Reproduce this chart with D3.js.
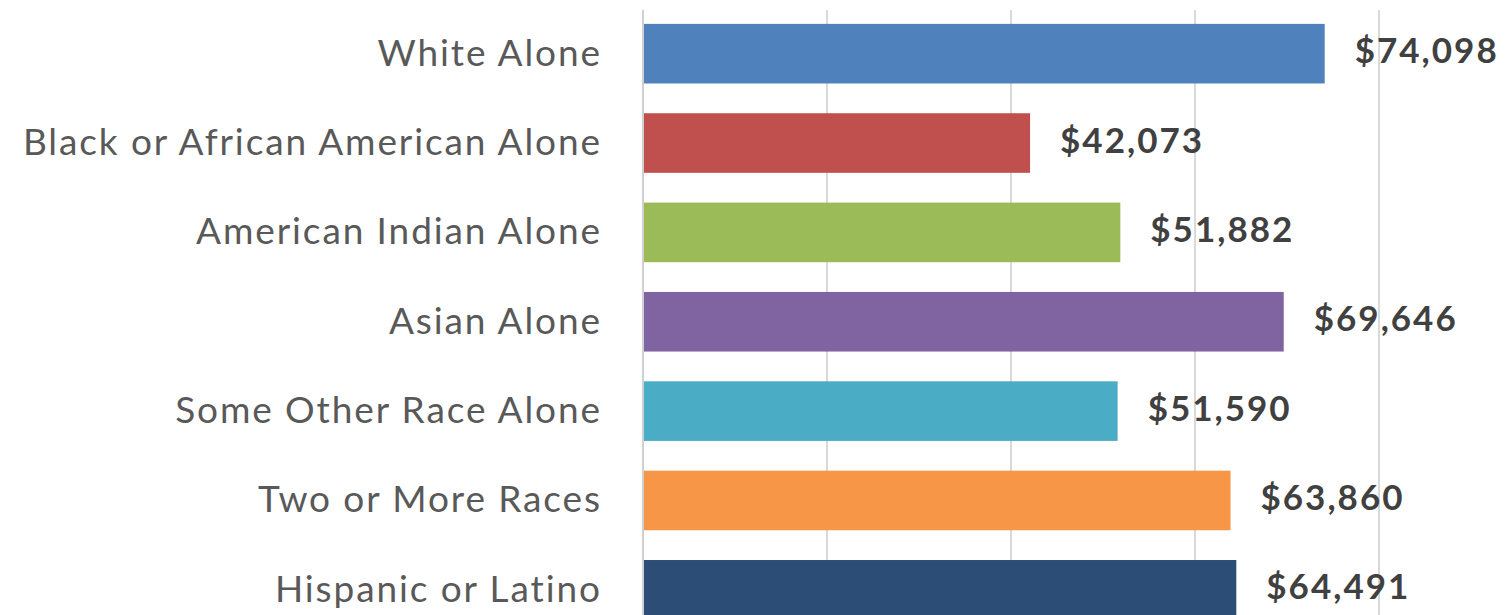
<!DOCTYPE html>
<html>
<head>
<meta charset="utf-8">
<script src="https://cdn.jsdelivr.net/npm/d3@7"></script>
<style>
  html, body { margin: 0; padding: 0; background: #fff; overflow: hidden; }
  svg { display: block; }
</style>
</head>
<body>
<svg id="chart" width="1510" height="615"></svg>
<script>
// Median household income by race / ethnicity
const categories = [
  "White Alone",
  "Black or African American Alone",
  "American Indian Alone",
  "Asian Alone",
  "Some Other Race Alone",
  "Two or More Races",
  "Hispanic or Latino"
];
const incomes = [74098, 42073, 51882, 69646, 51590, 63860, 64491];
const barColors = ["#4F81BD", "#C0504D", "#9BBB59", "#8064A2", "#4BACC6", "#F79646", "#2C4D75"];
const gridTicks = [0, 20000, 40000, 60000, 80000];

const svg = d3.select("#chart");
const plotLeft = 643, plotRight = 1379;
const plotTop = 9, plotBottom = 634.5;

const x = d3.scaleLinear().domain([0, 80000]).range([plotLeft, plotRight]);
const y = d3.scaleBand().domain(categories).range([plotTop, plotBottom])
  .paddingInner(0.333).paddingOuter(0.1665);

// vertical gridlines
svg.append("g").selectAll("line").data(gridTicks.slice(1)).join("line")
  .attr("x1", d => x(d)).attr("x2", d => x(d))
  .attr("y1", 10).attr("y2", 615)
  .attr("stroke", "#d9d9d9").attr("stroke-width", 2);

// bars
svg.append("g").selectAll("rect").data(categories).join("rect")
  .attr("x", x(0))
  .attr("y", d => y(d))
  .attr("width", (d, i) => x(incomes[i]) - x(0))
  .attr("height", y.bandwidth())
  .attr("fill", (d, i) => barColors[i]);

// category axis line
svg.append("line")
  .attr("x1", x(0)).attr("x2", x(0))
  .attr("y1", 10).attr("y2", 615)
  .attr("stroke", "#d0d0d0").attr("stroke-width", 2);

// category labels
const labelSpacing = 1.9;
svg.append("g").selectAll("text").data(categories).join("text")
  .attr("x", 600 + labelSpacing)
  .attr("y", d => y(d) + y.bandwidth() / 2)
  .attr("dy", 12)
  .attr("text-anchor", "end")
  .attr("font-family", "Lato, 'Open Sans', sans-serif")
  .attr("font-size", 37)
  .attr("letter-spacing", labelSpacing)
  .attr("fill", "#595959")
  .text(d => d);

// value labels
const fmt = d3.format("$,");
svg.append("g").selectAll("text").data(categories).join("text")
  .attr("x", (d, i) => x(incomes[i]) + 30)
  .attr("y", d => y(d) + y.bandwidth() / 2)
  .attr("dy", 9.5)
  .attr("font-family", "Lato, 'Open Sans', sans-serif")
  .attr("font-weight", "bold")
  .attr("font-size", 35)
  .attr("letter-spacing", 2)
  .attr("fill", "#404040")
  .text((d, i) => fmt(incomes[i]));
</script>
</body>
</html>
